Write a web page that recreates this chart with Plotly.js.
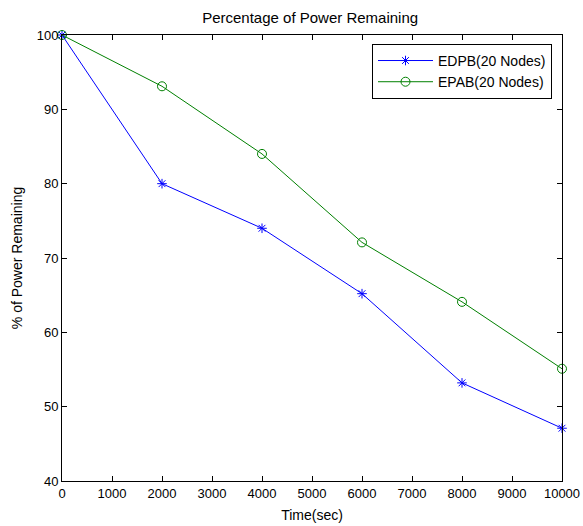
<!DOCTYPE html>
<html><head><meta charset="utf-8">
<script src="https://cdn.plot.ly/plotly-3.0.1.min.js"></script>
<style>html,body{margin:0;padding:0;background:#fff}#c{width:583px;height:526px}</style>
</head><body><div id="c"></div>
<script>
const timeSec = [0, 2000, 4000, 6000, 8000, 10000];
const edpb = [100, 80, 74, 65.2, 53.2, 47.1];
const epab = [100, 93.1, 84, 72.1, 64.1, 55.1];
const xTicks = [0,1000,2000,3000,4000,5000,6000,7000,8000,9000,10000];
const yTicks = [40,50,60,70,80,90,100];

const font = {family: 'Liberation Sans, Arial, sans-serif', color: '#000', size: 13};
const traces = [
  {x: timeSec, y: edpb, name: 'EDPB(20 Nodes)', mode: 'lines+markers', cliponaxis: false,
   line: {color: '#0000ff', width: 1}, marker: {symbol: 'asterisk-open', size: 8, color: '#0000ff', line: {color: '#0000ff', width: 1}}},
  {x: timeSec, y: epab, name: 'EPAB(20 Nodes)', mode: 'lines+markers', cliponaxis: false,
   line: {color: '#008000', width: 1}, marker: {symbol: 'circle-open', size: 9, color: '#008000', line: {color: '#008000', width: 1}}}
];
const axisCommon = {showgrid: false, zeroline: false, showline: true, mirror: 'ticks', linecolor: '#000', linewidth: 1,
  ticks: 'inside', ticklen: 5, tickcolor: '#000', tickfont: font};
const layout = {
  width: 583, height: 526, paper_bgcolor: '#fff', plot_bgcolor: '#fff',
  margin: {l: 62, r: 21, t: 35, b: 45},
  font: font,
  title: {text: 'Percentage of Power Remaining', font: {family: font.family, size: 15, color: '#000'}, x: 0.532, xanchor: 'center', y: 0.967, yanchor: 'middle'},
  xaxis: Object.assign({}, axisCommon, {range: [0, 10000], tickvals: xTicks, ticktext: xTicks.map(String),
    title: {text: 'Time(sec)', font: {family: font.family, size: 14, color: '#000'}, standoff: 10}}),
  yaxis: Object.assign({}, axisCommon, {range: [40, 100], tickvals: yTicks, ticktext: yTicks.map(String),
    title: {text: '% of Power Remaining', font: {family: font.family, size: 14, color: '#000'}, standoff: 10}}),
  legend: {x: 0.98, xanchor: 'right', y: 0.98, yanchor: 'top', bgcolor: '#fff', bordercolor: '#000', borderwidth: 1,
    font: {family: font.family, size: 14, color: '#000'}, tracegroupgap: 2, itemwidth: 55},
  showlegend: true
};
Plotly.newPlot('c', traces, layout, {displayModeBar: false, staticPlot: true});
</script></body></html>
